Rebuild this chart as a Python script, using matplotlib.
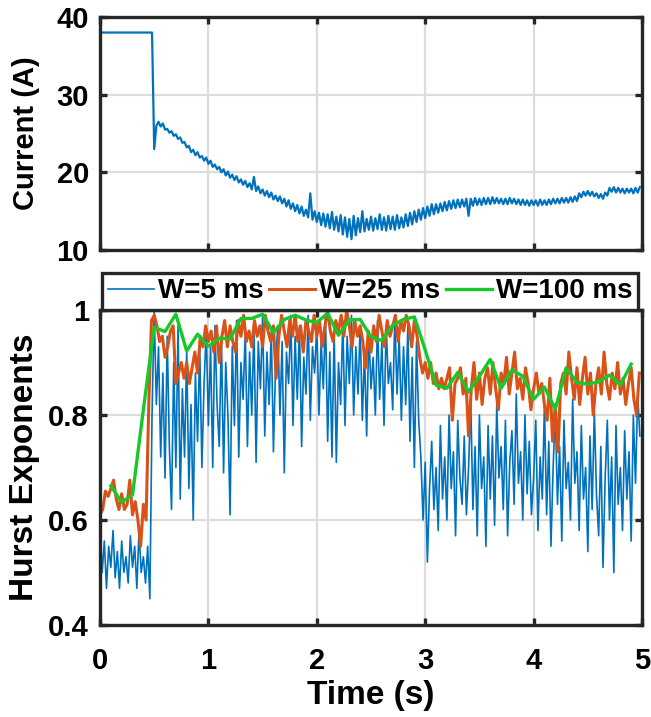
import numpy as np
import matplotlib.pyplot as plt

plt.rcParams['font.family'] = ['Liberation Sans', 'DejaVu Sans']
plt.rcParams['font.weight'] = 'bold'

# current trace, sampled every 20 ms
current_time = np.arange(0, 5, 0.02)
current = [
    38.0, 38.0, 38.0, 38.0, 38.0, 38.0, 38.0, 38.0, 38.0, 38.0,
    38.0, 38.0, 38.0, 38.0, 38.0, 38.0, 38.0, 38.0, 38.0, 38.0,
    38.0, 38.0, 38.0, 38.0, 38.0,
    23.0, 26.0, 26.5, 25.9, 26.3, 25.5, 25.6, 25.1, 25.3, 24.7,
    24.9, 24.3, 24.5, 23.8, 23.9, 23.2, 23.4, 22.6, 22.9, 22.2,
    22.6, 21.9, 22.1, 21.5, 21.9, 21.1, 21.5, 20.7, 21.0, 20.4,
    20.7, 20.0, 20.4, 19.6, 20.1, 19.3, 19.7, 19.0, 19.5, 18.7,
    19.1, 18.4, 18.9, 18.1, 18.6, 17.8, 19.4, 17.6, 18.2, 17.3,
    17.8, 17.0, 17.6, 16.8, 17.4, 16.5, 17.0, 16.3, 16.9, 16.0,
    16.6, 15.6, 16.4, 15.3, 16.0, 15.0, 15.8, 14.7, 15.6, 14.4,
    15.2, 14.2, 17.3, 13.9, 15.0, 13.6, 14.8, 13.2, 14.7, 13.0,
    14.6, 12.8, 14.9, 12.6, 14.3, 12.4, 14.5, 12.0, 14.2, 11.7,
    14.0, 11.4, 14.4, 11.9, 14.1, 12.3, 15.0, 12.4, 14.0, 12.6,
    14.3, 12.5, 14.1, 12.7, 14.6, 12.6, 14.2, 12.5, 14.4, 12.7,
    14.3, 12.6, 14.5, 12.8, 14.2, 12.9, 14.6, 13.1, 14.8, 13.3,
    15.0, 13.6, 15.2, 13.9, 15.4, 14.1, 15.6, 14.4, 15.9, 14.6,
    15.9, 14.8, 16.0, 15.0, 16.2, 15.1, 16.3, 15.3, 16.4, 15.4,
    16.5, 15.5, 16.5, 15.6, 16.6, 14.4, 16.6, 15.7, 16.7, 15.8,
    16.6, 15.8, 16.7, 15.9, 16.7, 15.9, 16.8, 16.0, 16.7, 16.0,
    16.6, 15.9, 16.6, 15.9, 16.7, 16.0, 16.6, 15.9, 16.5, 15.8,
    16.5, 15.8, 16.4, 15.7, 16.4, 15.8, 16.4, 15.7, 16.5, 15.8,
    16.4, 15.8, 16.5, 15.9, 16.6, 16.0, 16.6, 16.0, 16.7, 16.1,
    16.7, 16.1, 16.8, 16.2, 16.9, 16.3, 17.3, 16.8, 17.5, 17.0,
    17.6, 17.0, 17.5, 16.9, 17.3, 16.7, 17.2, 16.6, 17.4, 17.0,
    18.0, 17.5, 18.1, 17.4, 18.0, 17.4, 17.9, 17.3, 17.9, 17.4,
    17.9, 17.3, 18.0, 17.4, 18.1,
]

# Hurst exponent, W = 5 ms (shown every 20 ms)
h5_time = np.arange(0, 5, 0.02)
h5 = [
    0.59, 0.50, 0.56, 0.47, 0.55, 0.51, 0.58, 0.49, 0.54, 0.47,
    0.56, 0.50, 0.53, 0.48, 0.57, 0.51, 0.55, 0.47, 0.58, 0.50,
    0.53, 0.48, 0.55, 0.45, 0.80, 1.00, 0.82, 0.93, 0.72, 0.88,
    0.68, 0.95, 0.74, 0.62, 0.90, 0.70, 0.97, 0.64, 0.85, 0.72,
    0.92, 0.66, 0.82, 0.60, 0.88, 0.75, 0.93, 0.70, 0.86, 0.96,
    0.78, 0.93, 0.70, 0.97, 0.82, 0.74, 0.95, 0.69, 0.90, 0.80,
    0.61, 0.93, 0.78, 0.98, 0.72, 0.90, 0.83, 0.96, 0.74, 0.92,
    0.80, 0.97, 0.71, 0.94, 0.85, 0.99, 0.76, 0.92, 0.82, 0.96,
    0.73, 0.90, 0.97, 0.80, 0.94, 0.69, 0.92, 0.86, 0.99, 0.78,
    0.95, 0.83, 0.97, 0.74, 0.91, 0.84, 0.99, 0.79, 0.93, 0.88,
    0.97, 0.80, 0.94, 0.85, 0.99, 0.75, 0.92, 0.72, 0.96, 0.71,
    0.90, 0.82, 0.98, 0.78, 0.95, 0.86, 0.99, 0.80, 0.93, 0.84,
    0.97, 0.79, 0.92, 0.76, 0.96, 0.85, 0.91, 0.80, 0.98, 0.83,
    0.94, 0.78, 0.97, 0.86, 0.90, 0.81, 0.99, 0.84, 0.95, 0.79,
    0.93, 0.82, 0.97, 0.75, 0.91, 0.70, 0.94, 0.79, 0.72, 0.60,
    0.71, 0.52, 0.66, 0.75, 0.62, 0.70, 0.58, 0.78, 0.64, 0.72,
    0.60, 0.80, 0.66, 0.73, 0.57, 0.79, 0.68, 0.63, 0.76, 0.61,
    0.70, 0.83, 0.62, 0.74, 0.57, 0.80, 0.66, 0.72, 0.55, 0.78,
    0.64, 0.76, 0.59, 0.82, 0.68, 0.74, 0.62, 0.79, 0.57, 0.71,
    0.77, 0.63, 0.84, 0.67, 0.73, 0.60, 0.80, 0.65, 0.75, 0.61,
    0.68, 0.79, 0.58, 0.72, 0.64, 0.82, 0.61, 0.75, 0.55, 0.70,
    0.81, 0.63, 0.74, 0.56, 0.79, 0.66, 0.71, 0.60, 0.83, 0.67,
    0.73, 0.58, 0.78, 0.64, 0.70, 0.54, 0.76, 0.62, 0.81, 0.65,
    0.57, 0.74, 0.51, 0.68, 0.79, 0.60, 0.72, 0.50, 0.78, 0.63,
    0.70, 0.58, 0.77, 0.64, 0.73, 0.56, 0.80, 0.67, 0.84, 0.76,
]

# W = 25 ms
h25_time = np.arange(0, 5, 0.025)
h25 = [
    0.61, 0.62, 0.655, 0.645, 0.66, 0.676, 0.64, 0.62,
    0.65, 0.62, 0.63, 0.676, 0.61, 0.635, 0.60, 0.55,
    0.63, 0.60, 0.82, 0.98, 0.99, 0.97, 0.94, 0.95,
    0.91, 0.93, 0.96, 0.97, 0.86, 0.88, 0.90, 0.87,
    0.90, 0.86, 0.89, 0.92, 0.88, 0.95, 0.93, 0.97,
    0.94, 0.96, 0.92, 0.97, 0.90, 0.95, 0.98, 0.93,
    0.97, 0.94, 0.92, 0.98, 0.95, 0.99, 0.94, 0.96,
    0.93, 0.98, 0.95, 0.97, 0.93, 0.99, 0.96, 0.94,
    0.97, 0.87, 0.95, 0.99, 0.96, 0.93, 0.98, 0.95,
    0.99, 0.94, 0.97, 0.92, 0.98, 0.96, 0.94, 0.99,
    0.95, 0.98, 0.93, 0.97, 1.00, 0.96, 0.94, 0.98,
    0.96, 0.99, 0.95, 1.00, 0.97, 0.93, 0.98, 0.95,
    0.97, 0.94, 0.89, 0.96, 0.92, 0.97, 0.94, 0.99,
    0.96, 0.93, 0.98, 0.95, 0.97, 0.99, 0.94, 0.98,
    0.96, 0.99, 0.97, 0.93, 0.98, 0.95, 0.91, 0.88,
    0.90, 0.87, 0.90, 0.86, 0.88, 0.85, 0.87, 0.85,
    0.87, 0.89, 0.79, 0.86, 0.87, 0.89, 0.84, 0.87,
    0.76, 0.85, 0.90, 0.83, 0.88, 0.82, 0.87, 0.89,
    0.84, 0.90, 0.85, 0.81, 0.88, 0.86, 0.91, 0.84,
    0.88, 0.92, 0.85, 0.87, 0.83, 0.89, 0.86, 0.81,
    0.85, 0.88, 0.84, 0.86, 0.82, 0.79, 0.87, 0.75,
    0.82, 0.73, 0.86, 0.88, 0.84, 0.92, 0.87, 0.83,
    0.89, 0.82, 0.87, 0.91, 0.84, 0.88, 0.80, 0.86,
    0.89, 0.84, 0.92, 0.86, 0.83, 0.88, 0.85, 0.90,
    0.84, 0.87, 0.82, 0.86, 0.89, 0.83, 0.80, 0.88,
]

# W = 100 ms
h100_time = np.arange(1, 50) * 0.1
h100 = [
    0.665, 0.634, 0.648, 0.810, 0.967, 0.959, 0.992, 0.922, 0.954, 0.931,
    0.946, 0.945, 0.984, 0.984, 0.992, 0.957, 0.982, 0.990, 0.981, 0.976,
    0.994, 0.952, 0.981, 0.982, 0.949, 0.942, 0.971, 0.982, 0.987, 0.924,
    0.857, 0.851, 0.881, 0.844, 0.874, 0.906, 0.851, 0.886, 0.874, 0.830,
    0.853, 0.811, 0.890, 0.862, 0.859, 0.863, 0.876, 0.857, 0.897,
]

BLUE = '#0072BD'
ORANGE = '#D95319'
GREEN = '#17C82A'
EDGE = '#262626'

fig = plt.figure(figsize=(6.51, 7.17), dpi=100)
ax1 = fig.add_axes([0.1536, 0.6513, 0.8326, 0.3250])
ax2 = fig.add_axes([0.1536, 0.1283, 0.8326, 0.4393])

ax1.plot(current_time, current, color=BLUE, lw=1.6)
ax1.set_ylim(10, 40)
ax1.set_yticks([10, 20, 30, 40])
ax1.set_ylabel('Current (A)', fontsize=21, fontweight='bold')
ax1.tick_params(labelbottom=False)

ax2.plot(h5_time, h5, color=BLUE, lw=1.2, label='W=5 ms')
ax2.plot(h25_time, h25, color=ORANGE, lw=2.2, label='W=25 ms')
ax2.plot(h100_time, h100, color=GREEN, lw=2.4, label='W=100 ms')
ax2.set_ylim(0.4, 1.0)
ax2.set_yticks([0.4, 0.6, 0.8, 1.0])
ax2.set_yticklabels(['0.4', '0.6', '0.8', '1'])
ax2.set_ylabel('Hurst Exponents', fontsize=24, fontweight='bold')
ax2.set_xlabel('Time (s)', fontsize=24, fontweight='bold')

for ax in (ax1, ax2):
    ax.set_xlim(0, 5)
    ax.set_xticks(range(6))
    ax.grid(True, color='#dcdcdc', lw=1.6)
    ax.set_axisbelow(True)
    for s in ax.spines.values():
        s.set_linewidth(2.4)
        s.set_color(EDGE)
    ax.tick_params(direction='in', length=5, width=2.4, color=EDGE,
                   top=True, right=True, labelsize=21)
    ax.tick_params(axis='x', pad=16)
    ax.tick_params(axis='y', pad=8)
    ax.yaxis.set_label_coords(-0.11, 0.5)

ax2.xaxis.set_label_coords(0.5, -0.175)

leg = ax2.legend(loc='lower left', bbox_to_anchor=(0.004, 1.0, 0.989, 0.133),
                 mode='expand', ncol=3, fontsize=20, handlelength=1.65,
                 handletextpad=0.15, columnspacing=0.3, borderpad=0.2,
                 borderaxespad=0, fancybox=False, framealpha=1,
                 edgecolor=EDGE, prop={'weight': 'bold', 'size': 20})
leg.get_frame().set_linewidth(2.4)

fig.savefig('out.png', dpi=100)
